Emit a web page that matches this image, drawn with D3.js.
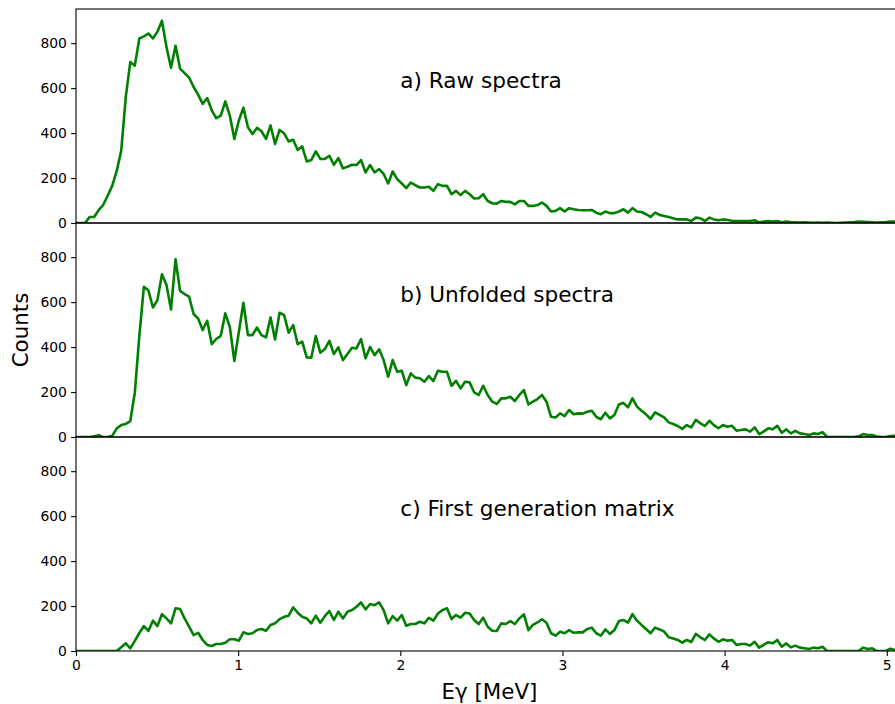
<!DOCTYPE html>
<html><head><meta charset="utf-8">
<script src="https://cdn.jsdelivr.net/npm/d3@7"></script>
<style>
html,body{margin:0;padding:0;background:#fff;}
text{font-family:"DejaVu Sans",sans-serif;}
</style></head>
<body><svg id="chart" width="895" height="704"></svg>
<script>
// ---------- data ----------
const binWidth = 0.0279; // MeV per bin
const panelLabels = ["a) Raw spectra", "b) Unfolded spectra", "c) First generation matrix"];
const yTicks = [0, 200, 400, 600, 800];
const xTicks = [0, 1, 2, 3, 4, 5];

const rawSpectra = [0,0,0,27,27,57,80,121,165,232,322,560,716,700,821,830,843,821,851,900,
783,691,788,687,667,647,605,571,530,556,501,466,478,541,478,374,456,513,426,396,
423,408,374,434,352,414,399,363,370,325,341,274,280,319,285,285,299,259,289,243,
250,259,258,280,225,258,225,240,218,176,229,195,176,155,180,168,158,158,161,143,
173,165,165,128,143,124,143,128,109,110,128,98,88,86,98,94,94,83,98,98,
76,76,80,91,76,51,54,66,51,66,61,58,57,57,58,46,39,51,44,44,
51,61,46,66,51,49,39,27,46,36,31,27,21,16,16,16,9,24,21,9,
24,16,12,16,13,10,9,9,9,9,12,3,6,9,6,9,3,6,4,3,
2,3,2,1,2,1,2,1,0,1,2,3,4,6,5,4,3,2,3,4,
6,7,6,5];

const unfoldedSpectra = [0,0,0,0,3,8,0,0,5,38,53,58,71,197,450,668,653,576,609,724,
676,567,791,650,636,624,547,527,476,517,413,436,450,550,490,338,468,597,453,453,
487,453,443,532,434,553,542,464,498,413,424,354,353,449,375,391,428,369,399,342,
369,397,394,436,350,401,364,390,342,268,342,290,295,231,283,264,261,246,271,249,
295,290,290,228,250,216,246,243,199,187,228,187,157,147,172,172,179,160,187,209,
145,157,169,187,157,90,87,105,93,120,101,105,104,112,117,90,79,108,83,98,
145,152,132,172,135,117,101,80,110,98,87,65,58,49,36,53,43,76,61,49,
72,53,39,53,46,50,28,31,34,24,43,13,24,39,34,50,19,34,16,27,
16,13,9,16,13,21,1,0,0,0,0,0,0,3,13,9,9,2,0,0,
4,5,3,4];

const firstGeneration = [0,0,0,0,0,0,0,0,0,0,17,34,12,45,80,111,89,135,111,164,
145,123,190,187,145,108,71,81,49,27,22,31,31,37,52,52,46,83,76,79,
93,98,90,116,123,142,152,157,194,170,152,145,123,157,126,155,178,138,175,145,
175,182,197,216,185,209,204,216,182,123,155,135,160,112,120,120,130,123,148,135,
167,182,190,142,160,148,170,167,138,120,148,108,90,89,123,120,133,120,145,163,
93,116,127,141,126,79,68,86,79,93,81,83,83,98,104,79,68,96,76,93,
133,138,126,164,135,116,98,79,104,96,86,61,56,49,37,49,40,76,61,49,
74,56,41,52,46,49,27,31,31,24,41,15,27,39,34,49,19,34,16,24,
15,12,9,15,12,19,0,0,0,0,0,0,0,0,15,9,12,0,0,0,
10,4,6,5];

const seriesList = [rawSpectra, unfoldedSpectra, firstGeneration];

// ---------- layout ----------
const svg = d3.select("#chart");
const left = 76, right = 903;
const panelTop = 9, panelH = 214;
const yMax = 952;

const x = d3.scaleLinear().domain([0, 5.1]).range([left, right]);

svg.append("rect").attr("width", 895).attr("height", 704).attr("fill", "#fff");

seriesList.forEach((vals, p) => {
  const top = panelTop + p * panelH;
  const y = d3.scaleLinear().domain([0, yMax]).range([top + panelH, top]);
  const g = svg.append("g");

  const clipId = "clip" + p;
  svg.append("clipPath").attr("id", clipId).append("rect")
    .attr("x", left).attr("y", top).attr("width", right - left).attr("height", panelH);

  const line = d3.line()
    .x((d, i) => x(i * binWidth))
    .y(d => y(d));

  g.append("path").datum(vals)
    .attr("clip-path", `url(#${clipId})`)
    .attr("fill", "none")
    .attr("stroke", "#008000")
    .attr("stroke-width", 2.6)
    .attr("stroke-linejoin", "round")
    .attr("d", line);

  // y axis
  const ya = g.append("g").attr("transform", `translate(${left},0)`)
    .call(d3.axisLeft(y).tickValues(yTicks).tickSize(4.9).tickPadding(4.2).tickFormat(d3.format("d")));
  ya.select(".domain").remove();
  ya.selectAll("line").attr("stroke", "#000").attr("stroke-width", 1.1);
  ya.selectAll("text").attr("font-size", "13.9px").attr("fill", "#000")
    .attr("font-family", "DejaVu Sans");

  // frame
  g.append("rect").attr("x", left).attr("y", top).attr("width", right - left).attr("height", panelH)
    .attr("fill", "none").attr("stroke", "#000").attr("stroke-width", 1.1);

  // label
  g.append("text").attr("x", x(2)).attr("y", y(600))
    .attr("font-size", "21.6px").attr("fill", "#000").text(panelLabels[p]);

  if (p === 2) {
    const xa = g.append("g").attr("transform", `translate(0,${top + panelH})`)
      .call(d3.axisBottom(x).tickValues(xTicks).tickSize(4.9).tickPadding(4.2).tickFormat(d3.format("d")));
    xa.select(".domain").remove();
    xa.selectAll("line").attr("stroke", "#000").attr("stroke-width", 1.1);
    xa.selectAll("text").attr("font-size", "13.9px").attr("fill", "#000")
      .attr("font-family", "DejaVu Sans");
  }
});

// axis titles
svg.append("text").attr("x", x(2.55)).attr("y", 699).attr("text-anchor", "middle")
  .attr("font-size", "21.4px").attr("fill", "#000").text("Eγ [MeV]");
svg.append("text").attr("transform", `translate(28,${panelTop + 1.5 * panelH}) rotate(-90)`)
  .attr("text-anchor", "middle").attr("font-size", "21.4px").attr("fill", "#000").text("Counts");
</script></body></html>
